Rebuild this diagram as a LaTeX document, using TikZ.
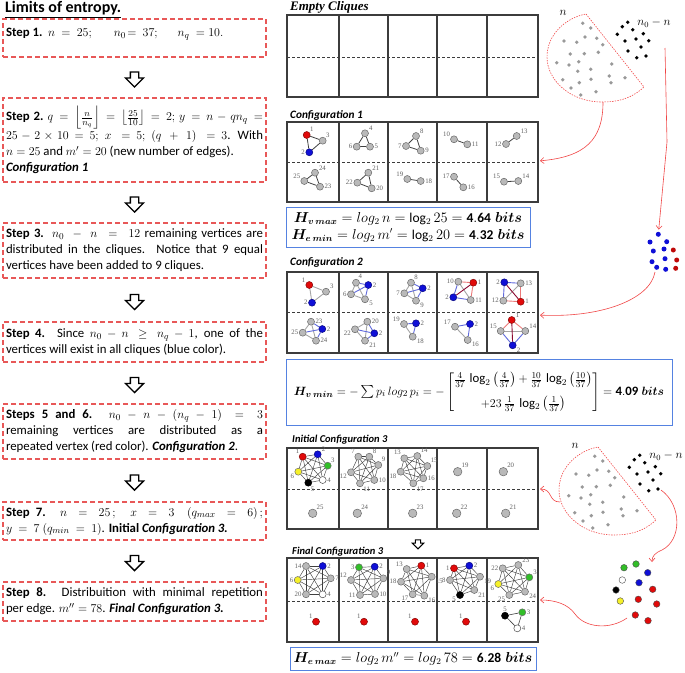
\documentclass[tikz,border=0pt]{standalone}
\usepackage{amsmath,amssymb,bm}
\usepackage{fontspec}
\setmainfont{Carlito}
\newfontfamily\cambria{Liberation Serif}
\usetikzlibrary{arrows.meta,positioning,calc,backgrounds,shapes.arrows}
\definecolor{boxred}{RGB}{232,88,88}
\definecolor{boxblue}{RGB}{85,130,225}
\definecolor{gridc}{RGB}{60,60,60}
\definecolor{vgrey}{RGB}{185,185,185}
\definecolor{vedge}{RGB}{105,105,105}
\definecolor{vred}{RGB}{225,10,10}
\definecolor{vblue}{RGB}{15,15,215}
\definecolor{vgreen}{RGB}{50,190,40}
\definecolor{vyellow}{RGB}{245,240,40}
\definecolor{eblue}{RGB}{95,105,220}
\definecolor{ered}{RGB}{235,120,120}
\definecolor{emaroon}{RGB}{140,10,50}
\definecolor{egrey}{RGB}{165,165,165}
\definecolor{numc}{RGB}{95,95,95}
\definecolor{feedc}{RGB}{240,70,70}
\tikzset{
  stepbox/.style={draw=boxred,dash pattern=on 5pt off 3pt,line width=1.1pt,
    text width=257pt,inner xsep=3pt,inner ysep=3pt,align=justify,
    font=\fontsize{12.8}{16}\selectfont},
  hollow/.style={single arrow,draw=black,line width=1.3pt,fill=white,rotate=-90,
    minimum height=15pt,inner xsep=0pt,inner ysep=3.5pt,single arrow head extend=5pt},
  hbox/.style={draw=boxblue,line width=1pt,align=center,inner sep=2pt},
  gtitle/.style={font=\fontsize{11.3}{12}\selectfont\bfseries\itshape,anchor=west,inner sep=0pt},
  v/.style={circle,draw=vedge,fill=vgrey,minimum size=7pt,inner sep=0pt,line width=0.5pt},
  vr/.style={v,fill=vred,draw=vred!60!black},
  vb/.style={v,fill=vblue,draw=vblue!60!black},
  vg/.style={v,fill=vgreen},
  vy/.style={v,fill=vyellow},
  vk/.style={v,fill=black,draw=black},
  vw/.style={v,fill=white,draw=black!70},
  vone/.style={v,minimum size=8.5pt},
  num/.style={font=\cambria\fontsize{6.8}{7}\selectfont,text=numc,inner sep=0.6pt},
  e1/.style={draw=black!75,line width=0.8pt},
  eg/.style={draw=egrey,line width=0.9pt},
  eb/.style={draw=eblue,line width=0.9pt},
  er/.style={draw=ered,line width=0.9pt},
  em/.style={draw=emaroon,line width=0.9pt},
  ek/.style={draw=black!75,line width=0.45pt},
  feed/.style={draw=feedc,line width=0.6pt,-{Straight Barb[length=3.5pt,width=6pt]}},
  sector/.style={draw=feedc,dash pattern=on 1.4pt off 1.2pt,line width=0.6pt},
  pool/.pic={
    \draw[sector] (586,14) -- (644,87) .. controls (630,100) and (615,102) .. (602,102)
      .. controls (570,102) and (547,80) .. (547,57) .. controls (547,35) and (565,18) .. cycle;
    \foreach \x/\y in {582.7/23.3,590.7/28,564/41,576.7/42.3,585/37,596.7/38.3,602.7/44.7,
      570.3/54,584.3/53.7,598.3/52.3,556.7/62.7,569/65,578.7/61.7,611.7/64,577.7/71.3,
      590.7/69.3,562.7/79.7,579.3/82.7,591/79.3,609.3/76,625/77.7,611/82.7,571/88,
      580.7/95,596/91.7}
      \fill[gray!80] (\x,\y) circle (1.9pt);
    \foreach \x/\y in {622.3/26.7,627.7/22.3,617.3/34.3,632.7/29.7,643.3/33.7,625/41,
      636/39,648.7/40.7,628/51,641/47,636.7/57.7,646/56}
      \fill[black] (\x,\y) circle (1.9pt);
    \node[font=\fontsize{12}{12}\selectfont] (-n) at (563,13) {$n$};
    \node[font=\fontsize{12}{12}\selectfont] (-rest) at (654,23) {$n_0-n$};
  }
}
\newcommand{\cliquegrid}[3]{%
  \draw[gridc,line width=1.2pt] (287,#1) rectangle (538,#2);
  \foreach \gx in {339,388,437,487} \draw[gridc,line width=1.2pt] (\gx,#1) -- (\gx,#2);
  \draw[gridc,densely dashed,line width=0.4pt] (287,#3) -- (538,#3);}

\begin{document}
\begin{tikzpicture}[x=1pt,y=-1pt]
  \useasboundingbox (0,0) rectangle (685,672);

  % left column: the steps
  \node[anchor=west,inner sep=0pt,font=\fontsize{16}{17}\selectfont\bfseries] (title) at (5,10) {\underline{Limits of entropy.}};
  \node[stepbox,minimum height=38pt] (s1) at (134.5,38) {\textbf{Step 1.}\ \ $n\ =\ 25;$\hspace{22pt}$n_0\!=\ 37;$\hspace{20pt}$n_q\ =10.$\\[-5pt]\mbox{}};
  \node[stepbox,minimum height=84pt] (s2) at (134.5,140) {\textbf{Step 2.}\ $q=\left\lfloor\frac{n}{n_q}\right\rfloor=\left\lfloor\frac{25}{10}\right\rfloor=2;\,y=n-qn_q=$\linebreak
    $25-2\times10=5;\ x\ =5;\ (q\ +\ 1)\ =3$. With\linebreak
    $n=25$ and $m'=20$ (new number of edges).\\
    \textbf{\textit{Configuration 1}}};
  \node[stepbox,minimum height=55pt] (s3) at (134.5,250.5) {\textbf{Step 3.} $n_0\ -\ n\ =\ 12$ remaining vertices are\linebreak
    distributed in the cliques. Notice that 9 equal\linebreak vertices have been added to 9 cliques.};
  \node[stepbox,minimum height=40pt] (s4) at (134.5,342) {\textbf{Step 4.} Since $n_0-n\geq n_q-1$, one of the\linebreak
    vertices will exist in all cliques (blue color).};
  \node[stepbox,minimum height=55pt] (s5) at (134.5,431.5) {\textbf{Steps 5 and 6.} $n_0-n-(n_q-1)=3$\linebreak
    remaining vertices are distributed as a\linebreak repeated vertex (red color). \textbf{\textit{Configuration~2}}.};
  \node[stepbox,minimum height=38pt] (s7) at (134.5,521) {\textbf{Step 7.} $n=25\,;\ \ x=3\ \ (q_{max}=6)\,;$\linebreak
    $y\ =\ 7\ (q_{min}\ =\ 1)$. \textbf{Initial \textit{Configuration 3.}}};
  \node[stepbox,minimum height=39pt] (s8) at (134.5,601.5) {\textbf{Step 8.} Distribuition with minimal repetition\linebreak
    per edge. $m''=78$. \textbf{\textit{Final Configuration 3.}}};
  \node[hollow] (d1) at ($(s1.south)!0.5!(s2.north)$) {};
  \node[hollow] (d2) at ($(s2.south)!0.5!(s3.north)$) {};
  \node[hollow] (d3) at ($(s3.south)!0.5!(s4.north)$) {};
  \node[hollow] (d4) at ($(s4.south)!0.5!(s5.north)$) {};
  \node[hollow] (d5) at ($(s5.south)!0.5!(s7.north)$) {};
  \node[hollow] (d6) at ($(s7.south)!0.5!(s8.north)$) {};

  % clique grids
  \node[gtitle,font=\cambria\fontsize{13}{13}\selectfont\bfseries\itshape] (tE) at (290,7) {Empty Cliques};
  \cliquegrid{15}{97}{57}
  \node[gtitle] (t1) at (290,115) {Configuration 1};
  \cliquegrid{122}{202}{162}
  \node[gtitle] (t2) at (290,262) {Configuration 2};
  \cliquegrid{272}{353}{312}
  \node[gtitle,font=\fontsize{10.5}{11}\selectfont\bfseries\itshape] (t3) at (292,440) {Initial Configuration 3};
  \cliquegrid{448}{529}{489}
  \node[hollow,line width=1pt,minimum height=9pt,inner ysep=2.2pt,single arrow head extend=3pt] (d7) at (418,543) {};
  \node[gtitle,font=\fontsize{10.5}{11}\selectfont\bfseries\itshape] (t4) at (292,552) {Final Configuration 3};
  \cliquegrid{558}{642}{601}

  % configuration 1
  \node[vr,label={[num]45:1}] (a1) at (306.7,135) {};
  \node[v,label={[num]45:3}] (a3) at (322.7,140.7) {};
  \node[vb,label={[num]180:2}] (a2) at (309.3,152.3) {};
  \node[v,label={[num]30:4}] (a4) at (365,133.3) {};
  \node[v,label={[num]180:6}] (a6) at (356.7,146.7) {};
  \node[v,label={[num]0:5}] (a5) at (370,146.7) {};
  \node[v,label={[num]30:8}] (a8) at (416,136) {};
  \node[v,label={[num]180:7}] (a7) at (406,146) {};
  \node[v,label={[num]0:9}] (a9) at (420.7,150.7) {};
  \node[v,label={[num]150:10}] (a10) at (454,139.3) {};
  \node[v,label={[num]0:11}] (a11) at (467.3,144.3) {};
  \node[v,label={[num]180:12}] (a12) at (506,144) {};
  \node[v,label={[num]30:13}] (a13) at (516.7,136) {};
  \node[v,label={[num]30:24}] (a24) at (315,172.7) {};
  \node[v,label={[num]150:25}] (a25) at (304.3,181) {};
  \node[v,label={[num]0:23}] (a23) at (320,186.7) {};
  \node[v,label={[num]30:21}] (a21) at (368.3,172.7) {};
  \node[v,label={[num]180:22}] (a22) at (357.3,182.7) {};
  \node[v,label={[num]0:20}] (a20) at (371.7,188.3) {};
  \node[v,label={[num]150:19}] (a19) at (407.3,179) {};
  \node[v,label={[num]0:18}] (a18) at (420.7,181) {};
  \node[v,label={[num]180:17}] (a17) at (454,176.7) {};
  \node[v,label={[num]0:16}] (a16) at (463.3,187.3) {};
  \node[v,label={[num]150:15}] (a15) at (504,181.7) {};
  \node[v,label={[num]30:14}] (a14) at (518.3,181) {};

  % configuration 2
  \node[vr,label={[num]150:1}] (b1-1) at (309.3,285) {};
  \node[v,label={[num]30:3}] (b1-3) at (326,291.7) {};
  \node[vb,label={[num]180:2}] (b1-2) at (312,302.7) {};
  \node[v,label={[num]60:4}] (b2-4) at (356,282.7) {};
  \node[vb,label={[num]0:2}] (b2-2) at (368.3,285) {};
  \node[v,label={[num]180:6}] (b2-6) at (351,294.3) {};
  \node[v,label={[num]-20:5}] (b2-5) at (365,299.3) {};
  \node[v,label={[num]45:8}] (b3-8) at (411,282.7) {};
  \node[vb,label={[num]0:2}] (b3-2) at (422.7,288.3) {};
  \node[v,label={[num]180:7}] (b3-7) at (404.3,293.3) {};
  \node[v,label={[num]-20:9}] (b3-9) at (416,300.7) {};
  \node[v,label={[num]180:10}] (b4-10) at (458.3,281.7) {};
  \node[vr,label={[num]0:1}] (b4-1) at (473.3,282.7) {};
  \node[vb,label={[num]180:2}] (b4-2) at (453.3,297.3) {};
  \node[v,label={[num]0:11}] (b4-11) at (470.7,300) {};
  \node[vb,label={[num]180:2}] (b5-2) at (504.3,282.3) {};
  \node[v,label={[num]0:13}] (b5-13) at (520.7,283.3) {};
  \node[v,label={[num]180:12}] (b5-12) at (503.3,300.7) {};
  \node[vr,label={[num]0:1}] (b5-1) at (520.7,301.7) {};
  \node[v,label={[num]0:23}] (b6-23) at (311,321.7) {};
  \node[v,label={[num]180:25}] (b6-25) at (302.7,332.7) {};
  \node[vb,label={[num]0:2}] (b6-2) at (322.3,329) {};
  \node[v,label={[num]0:24}] (b6-24) at (316,340.7) {};
  \node[v,label={[num]0:20}] (b7-20) at (367.3,321.7) {};
  \node[v,label={[num]200:22}] (b7-22) at (355,329.3) {};
  \node[vb,label={[num]0:2}] (b7-2) at (374.3,333.3) {};
  \node[v,label={[num]-20:21}] (b7-21) at (365,340.7) {};
  \node[v,label={[num]160:19}] (b8-19) at (404,324) {};
  \node[vb,label={[num]0:2}] (b8-2) at (416,323.3) {};
  \node[v,label={[num]-20:18}] (b8-18) at (412.7,336.7) {};
  \node[v,label={[num]160:17}] (b9-17) at (455,326.7) {};
  \node[vb,label={[num]0:2}] (b9-2) at (470,324) {};
  \node[v,label={[num]-20:16}] (b9-16) at (467.7,340) {};
  \node[vr,label={[num]30:1}] (b10-1) at (511.7,320) {};
  \node[v,label={[num]150:15}] (b10-15) at (500.7,331) {};
  \node[v,label={[num]30:14}] (b10-14) at (525.3,331) {};
  \node[vb,label={[num]-30:2}] (b10-2) at (512.7,345.3) {};

  % initial configuration 3
  \node[vr,label={[num]135:1}] (c1-1) at (302.7,456.7) {};
  \node[vb,label={[num]30:2}] (c1-2) at (317.7,454.3) {};
  \node[vg,label={[num]45:3}] (c1-3) at (327.7,465.7) {};
  \node[vw,label={[num]0:4}] (c1-4) at (322.7,480) {};
  \node[vk,label={[num]-60:5}] (c1-5) at (308.3,482.7) {};
  \node[vy,label={[num]200:6}] (c1-6) at (298.3,471.7) {};
  \node[v,label={[num]135:7}] (c2-1) at (358.3,456.7) {};
  \node[v,label={[num]45:8}] (c2-2) at (369.3,456.7) {};
  \node[v,label={[num]45:9}] (c2-3) at (378.3,465) {};
  \node[v,label={[num]0:10}] (c2-4) at (374.3,480) {};
  \node[v,label={[num]-45:11}] (c2-5) at (360,483.3) {};
  \node[v,label={[num]200:12}] (c2-6) at (351,472.3) {};
  \node[v,label={[num]135:13}] (c3-1) at (404.3,458.3) {};
  \node[v,label={[num]45:14}] (c3-2) at (417.3,456) {};
  \node[v,label={[num]45:15}] (c3-3) at (427.3,466) {};
  \node[v,label={[num]0:16}] (c3-4) at (423.3,478.3) {};
  \node[v,label={[num]-45:17}] (c3-5) at (413.3,483.3) {};
  \node[v,label={[num]200:18}] (c3-6) at (400.7,471.7) {};
  \node[vone,label={[num]45:19}] (c4) at (457.7,471.7) {};
  \node[vone,label={[num]45:20}] (c5) at (503.3,471.7) {};
  \node[vone,label={[num]45:25}] (c6) at (312.7,513.3) {};
  \node[vone,label={[num]45:24}] (c7) at (357.3,513.3) {};
  \node[vone,label={[num]45:23}] (c8) at (412.7,513.3) {};
  \node[vone,label={[num]45:22}] (c9) at (456.7,513.3) {};
  \node[vone,label={[num]45:21}] (c10) at (505.7,513.3) {};

  % final configuration 3
  \node[v,label={[num]180:14}] (f1-1) at (306,566) {};
  \node[vb,label={[num]0:2}] (f1-2) at (322.7,566) {};
  \node[v,label={[num]0:7}] (f1-3) at (330.7,578.3) {};
  \node[vw,label={[num]0:4}] (f1-4) at (322.7,594.3) {};
  \node[v,label={[num]180:20}] (f1-5) at (306,594.3) {};
  \node[vy,label={[num]180:6}] (f1-6) at (297.7,580) {};
  \node[vg,label={[num]180:3}] (f2-1) at (359,567.3) {};
  \node[vb,label={[num]0:2}] (f2-2) at (374.7,566.7) {};
  \node[v,label={[num]45:9}] (f2-3) at (383.3,578.3) {};
  \node[v,label={[num]0:10}] (f2-4) at (375,594) {};
  \node[v,label={[num]180:11}] (f2-5) at (360,595) {};
  \node[v,label={[num]160:12}] (f2-6) at (351,580) {};
  \node[vr,label={[num]0:1}] (f3-1) at (421.3,565.7) {};
  \node[v,label={[num]-20:15}] (f3-2) at (431.7,576.7) {};
  \node[v,label={[num]-30:16}] (f3-3) at (424.3,595.7) {};
  \node[v,label={[num]200:17}] (f3-4) at (412.7,594.3) {};
  \node[v,label={[num]180:18}] (f3-5) at (401,581.7) {};
  \node[v,label={[num]150:13}] (f3-6) at (406.7,569) {};
  \node[vr,label={[num]180:1}] (f4-1) at (454,568.3) {};
  \node[vb,label={[num]0:2}] (f4-2) at (469.3,565.7) {};
  \node[v,label={[num]-20:19}] (f4-3) at (480,576.7) {};
  \node[v,label={[num]-30:21}] (f4-4) at (474.3,590) {};
  \node[vk,label={[num]200:5}] (f4-5) at (460,595) {};
  \node[v,label={[num]180:8}] (f4-6) at (450,580) {};
  \node[v,label={[num]180:22}] (f5-1) at (502.7,568.3) {};
  \node[v,label={[num]30:23}] (f5-2) at (518.3,565) {};
  \node[vg,label={[num]30:3}] (f5-3) at (529.3,577.3) {};
  \node[v,label={[num]-20:24}] (f5-4) at (525,591.7) {};
  \node[v,label={[num]200:25}] (f5-5) at (509.3,595) {};
  \node[vy,label={[num]200:6}] (f5-6) at (498.3,584) {};
  \node[vr,label={[num]135:1}] (f6) at (316,621.7) {};
  \node[vr,label={[num]135:1}] (f7) at (364,621.7) {};
  \node[vr,label={[num]135:1}] (f8) at (415,621.7) {};
  \node[vr,label={[num]135:1}] (f9) at (466,621.7) {};
  \node[vk,label={[num]90:5}] (f10-1) at (505,615.7) {};
  \node[vg,label={[num]0:3}] (f10-2) at (522.3,612.3) {};
  \node[vw,label={[num]0:4}] (f10-3) at (517.3,628.3) {};

  \begin{scope}[on background layer]
    \foreach \p/\q in {a1/a3,a1/a2,a2/a3,a4/a6,a4/a5,a6/a5,a8/a7,a8/a9,a7/a9,a10/a11,
      a12/a13,a24/a25,a24/a23,a25/a23,a21/a22,a21/a20,a22/a20,a19/a18,a17/a16,a15/a14}
      \draw[e1] (\p) -- (\q);
    \foreach \p/\q in {b1-1/b1-3,b1-3/b1-2,b1-1/b1-2,b2-4/b2-6,b2-4/b2-5,b2-6/b2-5,
      b3-8/b3-7,b3-8/b3-9,b3-7/b3-9,b4-10/b4-11,b5-12/b5-13,b6-23/b6-25,b6-23/b6-24,
      b6-25/b6-24,b7-20/b7-22,b7-20/b7-21,b7-22/b7-21,b8-19/b8-18,b9-17/b9-16,b10-15/b10-14}
      \draw[eg] (\p) -- (\q);
    \foreach \p/\q in {b2-2/b2-4,b2-2/b2-6,b2-2/b2-5,b3-2/b3-8,b3-2/b3-7,b3-2/b3-9,
      b4-2/b4-10,b4-2/b4-11,b5-2/b5-13,b5-2/b5-12,b6-2/b6-23,b6-2/b6-25,b6-2/b6-24,
      b7-2/b7-20,b7-2/b7-22,b7-2/b7-21,b8-2/b8-19,b8-2/b8-18,b9-2/b9-17,b9-2/b9-16,
      b10-2/b10-15,b10-2/b10-14}
      \draw[eb] (\p) -- (\q);
    \foreach \p/\q in {b4-1/b4-10,b4-1/b4-11,b5-1/b5-13,b5-1/b5-12,b10-1/b10-15,b10-1/b10-14}
      \draw[er] (\p) -- (\q);
    \foreach \p/\q in {b4-1/b4-2,b5-1/b5-2,b10-1/b10-2}
      \draw[em] (\p) -- (\q);
    \foreach \c in {c1,c2,c3,f1,f2,f3,f4,f5}
      \foreach \i in {1,...,5}
        \foreach \j in {2,...,6}
          {\ifnum\i<\j \draw[ek] (\c-\i) -- (\c-\j);\fi}
    \foreach \p/\q in {f10-1/f10-2,f10-2/f10-3,f10-1/f10-3}
      \draw[ek,line width=0.6pt] (\p) -- (\q);
  \end{scope}

  % entropy boxes
  \node[hbox,minimum width=244pt,minimum height=40pt,font=\fontsize{13.5}{17}\selectfont] (h1) at (408,227)
    {$\bm{H_{v\,max}}=log_2\,n=\log_2 25=\mathbf{4.64}\;\bm{bits}$\\
     $\bm{H_{e\,min}}=log_2\,m'=\log_2 20=\mathbf{4.32}\;\bm{bits}$};
  \node[hbox,minimum width=386pt,minimum height=66pt,font=\fontsize{12.8}{15}\selectfont] (h2) at (479,392)
    {$\bm{H_{v\,min}}=-\sum p_i\,log_2\,p_i=-\begin{bmatrix}
      \frac{4}{37}\,\log\limits_2\,\bigl(\frac{4}{37}\bigr)+\frac{10}{37}\,\log\limits_2\,\bigl(\frac{10}{37}\bigr)\\[9pt]
      +23\,\frac{1}{37}\,\log\limits_2\,\bigl(\frac{1}{37}\bigr)\end{bmatrix}=\mathbf{4.09}\;\bm{bits}$};
  \node[hbox,minimum width=246pt,minimum height=23pt,font=\fontsize{13.5}{15}\selectfont] (h3) at (413,659)
    {$\bm{H_{e\,max}}=log_2\,m''=log_2\,78=\mathbf{6.28}\;\bm{bits}$};

  % vertex pools and where they go
  \pic (pa) at (0,0) {pool};
  \pic (pb) at (12,433) {pool};
  \coordinate (o1) at (603,102);
  \coordinate (o2) at (665,48);
  \coordinate (o4) at (560,502);
  \coordinate (o5) at (661,490);
  \node[circle,fill=vblue,inner sep=0pt,minimum size=5pt] (bl1) at (658.3,234.3) {};
  \foreach \x/\y in {650/242,666.7/241.7,653.3/251,664/249,652/261.7,665/258.7,656.7/267.3,665.7/269.3}
    \fill[vblue] (\x,\y) circle (2.5pt);
  \foreach \x/\y in {673.3/250,676.7/260,675.7/268.3}
    \fill[vred!85!black] (\x,\y) circle (2.5pt);
  \coordinate (o3) at (655,272);
  \foreach \x/\y/\c in {624/567.7/vgreen,636/564/vgreen,622.3/580/white,647.7/572.7/vblue,
    639/582.7/vblue,616/590/black,652.7/589.3/vred,638.3/599.3/vred,656.7/604/vred,
    635.3/615/vred,648/620.7/vred,620.3/601/vyellow}
    \filldraw[fill=\c,draw=black!70,line width=0.4pt] (\x,\y) circle (3.3pt);
  \coordinate (o6) at (627,618);
  \coordinate (g1) at (538,161);
  \coordinate (g2) at (538,315);
  \coordinate (g3) at (538,489);
  \coordinate (g4) at (538,600);
  \draw[feed,shorten >=2pt] (o1) .. controls (603,140) and (585,157) .. (g1);
  \draw[feed,shorten >=2pt] (o2) -- (667,142) -- (bl1);
  \draw[feed,shorten >=2pt] (o3) .. controls (650,300) and (600,318) .. (g2);
  \draw[feed,shorten >=2pt] (o4) .. controls (548,502) and (553,489) .. (g3);
  \draw[feed] (o5) .. controls (682,505) and (682,540) .. (662,550) .. controls (655,553) and (652,556) .. (652,562);
  \draw[feed,shorten >=2pt] (o6) .. controls (610,630) and (585,628) .. (575,614) .. controls (568,604) and (555,600) .. (g4);
\end{tikzpicture}
\end{document}
